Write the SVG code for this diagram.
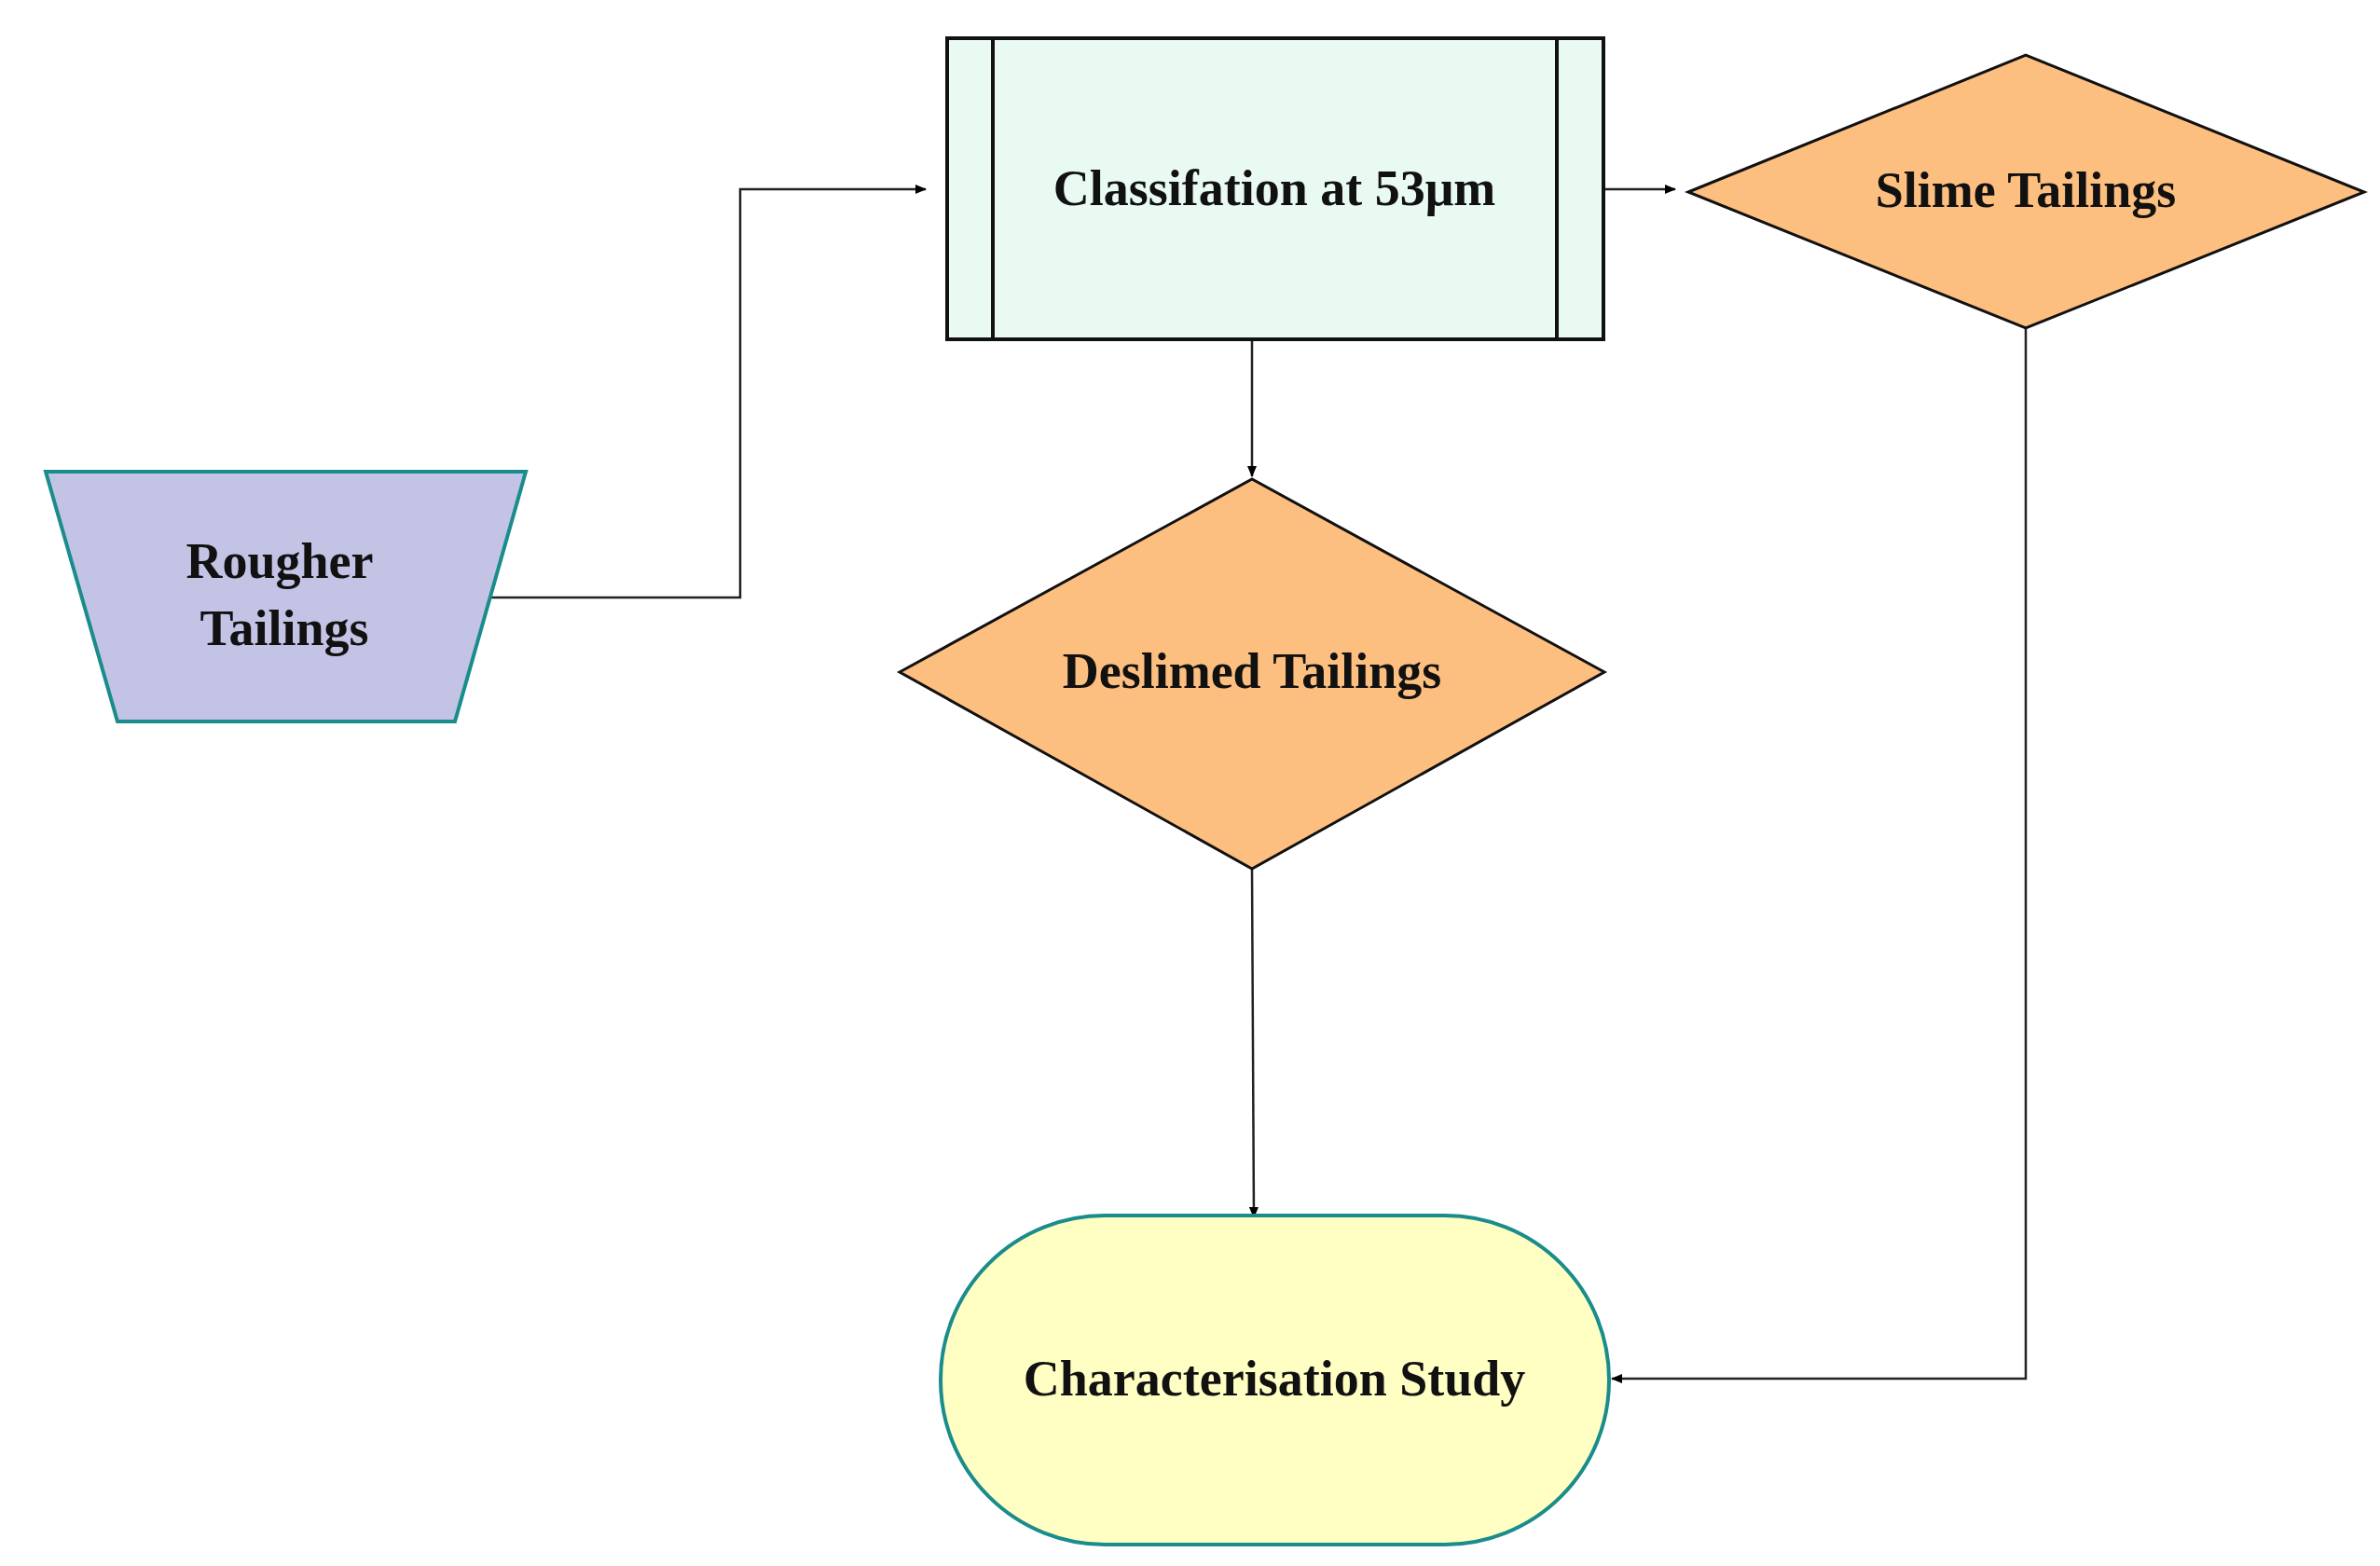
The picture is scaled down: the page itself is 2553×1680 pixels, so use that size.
<svg xmlns="http://www.w3.org/2000/svg" width="2553" height="1680" viewBox="0 0 2553 1680">
<style>
text{font-family:"Liberation Serif","DejaVu Serif",serif;font-weight:bold;font-size:54px;fill:#111;text-anchor:middle}
.c{fill:none;stroke:#222;stroke-width:2.5}
</style>
<defs><marker id="a" markerWidth="12" markerHeight="10" refX="11" refY="5" orient="auto" markerUnits="userSpaceOnUse" viewBox="0 0 12 10"><path d="M0,0L12,5L0,10z" fill="#000"/></marker></defs>
<rect width="2553" height="1680" fill="#fff"/>
<g id="connectors">
<path class="c" d="M527,641H794V203H993" marker-end="url(#a)"/>
<path class="c" d="M1720,203H1797" marker-end="url(#a)"/>
<path class="c" d="M1343,364V511" marker-end="url(#a)"/>
<path class="c" d="M1343,932L1345,1306" marker-end="url(#a)"/>
<path class="c" d="M2173,352V1479H1729" marker-end="url(#a)"/>
</g>
<style>marker path{}</style>
<g id="rougher"><path d="M49,506H564L488,774H126Z" fill="#c3c3e5" stroke="#1a8c8c" stroke-width="4"/>
<text x="300" y="620">Rougher</text><text x="305" y="692">Tailings</text></g>
<g id="classification"><rect x="1016" y="41" width="704" height="323" fill="#e8faf2" stroke="#111" stroke-width="4"/>
<path d="M1065,41V364M1670,41V364" stroke="#111" stroke-width="4"/>
<text x="1367" y="220">Classifation at 53μm</text></g>
<g id="slime"><path d="M1811,206L2173,59L2536,206L2173,352Z" fill="#fdbf80" stroke="#111" stroke-width="3"/>
<text x="2173" y="222">Slime Tailings</text></g>
<g id="deslimed"><path d="M965,721L1343,514L1721,721L1343,932Z" fill="#fdbf80" stroke="#111" stroke-width="3"/>
<text x="1343" y="738">Deslimed Tailings</text></g>
<g id="study"><rect x="1009" y="1304" width="717" height="353" rx="176" ry="176" fill="#ffffc3" stroke="#1a8c8c" stroke-width="4"/>
<text x="1367" y="1497">Characterisation Study</text></g>
</svg>
